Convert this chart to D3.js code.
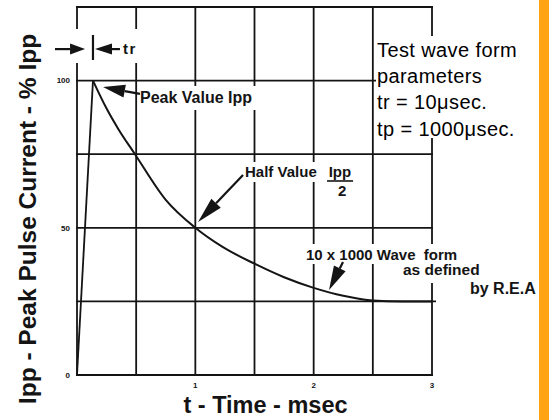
<!DOCTYPE html>
<html>
<head>
<meta charset="utf-8">
<script src="https://cdn.jsdelivr.net/npm/d3@7"></script>
<style>
  body { margin: 0; background: #fff; }
  svg text { font-family: "Liberation Sans", Arial, Helvetica, sans-serif; }
</style>
</head>
<body>
<svg id="chart" width="549" height="420"></svg>
<script>
// 10 x 1000 waveform (t in msec, current in % of Ipp)
var riseT = [0, 0.135]
var riseV = [0, 100]
var decayT = [0.135, 0.25, 0.35, 0.49, 0.75, 1.0, 1.23, 1.5, 1.75, 2.0, 2.25, 2.5, 2.75, 3.0]
var decayV = [100, 90.5, 83.5, 75, 59.5, 50, 43.5, 37.8, 33.2, 29.6, 26.9, 25.3, 25, 25]

var gridT = [0, 0.5, 1, 1.5, 2, 2.5, 3]
var gridV = [0, 25, 50, 75, 100, 125]
var xTickLabels = ["1", "2", "3"]
var xTickValues = [1, 2, 3]
var yTickLabels = ["0", "50", "100"]
var yTickValues = [0, 50, 100]

var boxLines = ["Test wave form", "parameters", "tr = 10\u03bcsec.", "tp = 1000\u03bcsec."]

var svg = d3.select("#chart")
var ink = "#141414"

var x = d3.scaleLinear().domain([0, 3]).range([77, 432])
var y = d3.scaleLinear().domain([0, 125]).range([375, 7])

// orange strip at the right edge
svg.append("rect")
	.attr("x", 539).attr("y", 0)
	.attr("width", 10).attr("height", 420)
	.attr("fill", "#ffa514")

// grid
svg.selectAll(".vgrid")
	.data(gridT)
	.enter().append("line")
	.attr("class", "vgrid")
	.attr("x1", function(d) { return x(d) })
	.attr("x2", function(d) { return x(d) })
	.attr("y1", y(0) + 1)
	.attr("y2", y(125) - 1)
	.attr("stroke", ink)
	.attr("stroke-width", 1.8)

svg.selectAll(".hgrid")
	.data(gridV)
	.enter().append("line")
	.attr("class", "hgrid")
	.attr("x1", x(0) - 1)
	.attr("x2", function(d) { return d == 25 ? x(3) + 4 : x(3) + 1 })
	.attr("y1", function(d) { return y(d) })
	.attr("y2", function(d) { return y(d) })
	.attr("stroke", ink)
	.attr("stroke-width", 1.8)

// white knock-outs behind the notes (the scan breaks the grid there)
function knock(x0, y0, w, h) {
	svg.append("rect").attr("x", x0).attr("y", y0)
		.attr("width", w).attr("height", h).attr("fill", "#fff")
}
knock(50, 29, 91, 34)      // tr marker
knock(138, 86, 120, 24)    // Peak Value Ipp
knock(243, 162, 74, 20)    // Half Value
knock(324, 162, 33, 37)    // Ipp / 2
knock(303, 244, 164, 20)   // 10 x 1000 Wave form
knock(400, 262, 87, 21)    // as defined
knock(376, 36, 162, 102)   // test wave form box

// waveform
var line = d3.line()
	.x(function(d) { return x(d[0]) })
	.y(function(d) { return y(d[1]) })

svg.append("path")
	.datum(d3.zip(riseT, riseV))
	.attr("d", line)
	.attr("fill", "none")
	.attr("stroke", ink)
	.attr("stroke-width", 1.8)

svg.append("path")
	.datum(d3.zip(decayT, decayV))
	.attr("d", line.curve(d3.curveMonotoneX))
	.attr("fill", "none")
	.attr("stroke", ink)
	.attr("stroke-width", 2)

// arrows, given in data units
function arrow(t1, v1, t2, v2, len, half) {
	var x1 = x(t1), y1 = y(v1), x2 = x(t2), y2 = y(v2)
	var a = Math.atan2(y2 - y1, x2 - x1)
	var bx = x2 - len * Math.cos(a), by = y2 - len * Math.sin(a)
	svg.append("line")
		.attr("x1", x1).attr("y1", y1).attr("x2", bx).attr("y2", by)
		.attr("stroke", ink).attr("stroke-width", 2.2)
	svg.append("path")
		.attr("d", "M" + x2 + "," + y2 +
			"L" + (bx + half * Math.sin(a)) + "," + (by - half * Math.cos(a)) +
			"L" + (bx - half * Math.sin(a)) + "," + (by + half * Math.cos(a)) + "Z")
		.attr("fill", ink)
}

// tr marker
arrow(-0.186, 110.7, 0.068, 110.7, 15, 5.5)
arrow(0.363, 110.7, 0.152, 110.7, 17, 5.5)
svg.append("line")
	.attr("x1", x(0.135)).attr("x2", x(0.135))
	.attr("y1", y(115.5)).attr("y2", y(107))
	.attr("stroke", ink).attr("stroke-width", 2.2)
svg.append("text")
	.attr("x", x(0.389)).attr("y", y(109))
	.attr("font-size", 15).attr("font-weight", "bold")
	.attr("letter-spacing", 1.5)
	.attr("fill", ink)
	.text("tr")

// Peak Value
arrow(0.532, 95.5, 0.22, 97.8, 22, 6.5)
svg.append("text")
	.attr("x", x(0.532)).attr("y", y(92.4))
	.attr("font-size", 16).attr("font-weight", "bold").attr("fill", ink)
	.text("Peak Value Ipp")

// Half Value
arrow(1.403, 67.9, 1.023, 52.0, 26, 6.5)
svg.append("text")
	.attr("x", x(1.42)).attr("y", y(67.3))
	.attr("font-size", 15).attr("font-weight", "bold").attr("fill", ink)
	.text("Half Value")
svg.append("text")
	.attr("x", x(2.222)).attr("y", y(67.3))
	.attr("text-anchor", "middle")
	.attr("font-size", 15).attr("font-weight", "bold").attr("fill", ink)
	.text("Ipp")
svg.append("line")
	.attr("x1", x(2.113)).attr("x2", x(2.333))
	.attr("y1", y(65.9)).attr("y2", y(65.9))
	.attr("stroke", ink).attr("stroke-width", 1.6)
svg.append("text")
	.attr("x", x(2.24)).attr("y", y(60.8))
	.attr("text-anchor", "middle")
	.attr("font-size", 15).attr("font-weight", "bold").attr("fill", ink)
	.text("2")

// 10 x 1000 note
arrow(2.248, 38.4, 2.13, 28.9, 24, 6.5)
svg.append("text")
	.attr("x", x(1.935)).attr("y", y(39.1))
	.attr("font-size", 15).attr("font-weight", "bold").attr("fill", ink)
	.attr("xml:space", "preserve")
	.text("10 x 1000 Wave  form")
svg.append("text")
	.attr("x", x(2.755)).attr("y", y(34))
	.attr("font-size", 15.5).attr("font-weight", "bold").attr("fill", ink)
	.text("as defined")
svg.append("text")
	.attr("x", x(3.321)).attr("y", y(27.5))
	.attr("font-size", 16).attr("font-weight", "bold").attr("fill", ink)
	.text("by R.E.A")

// tick labels
svg.selectAll(".ylab")
	.data(yTickValues)
	.enter().append("text")
	.attr("class", "ylab")
	.attr("x", 70)
	.attr("y", function(d) { return y(d) })
	.attr("dy", "0.35em")
	.attr("text-anchor", "end")
	.attr("font-size", 8).attr("font-weight", "bold").attr("fill", ink)
	.text(function(d, i) { return yTickLabels[i] })

svg.selectAll(".xlab")
	.data(xTickValues)
	.enter().append("text")
	.attr("class", "xlab")
	.attr("x", function(d) { return x(d) })
	.attr("y", 388)
	.attr("text-anchor", "middle")
	.attr("font-size", 8).attr("font-weight", "bold").attr("fill", ink)
	.text(function(d, i) { return xTickLabels[i] })

// axis titles
svg.append("text")
	.attr("transform", "translate(36,219) rotate(-90)")
	.attr("text-anchor", "middle")
	.attr("font-size", 24.5).attr("font-weight", "bold").attr("fill", ink)
	.text("Ipp - Peak Pulse Current - % Ipp")

svg.append("text")
	.attr("x", 265.5).attr("y", 413)
	.attr("text-anchor", "middle")
	.attr("font-size", 23.5).attr("font-weight", "bold").attr("fill", ink)
	.text("t - Time - msec")

// test wave form box
svg.selectAll(".box")
	.data(boxLines)
	.enter().append("text")
	.attr("class", "box")
	.attr("x", 377)
	.attr("y", function(d, i) { return 57 + i * 26.2 })
	.attr("font-size", 20)
	.attr("letter-spacing", 0.4)
	.attr("fill", "#000")
	.text(function(d) { return d })
</script>
</body>
</html>
